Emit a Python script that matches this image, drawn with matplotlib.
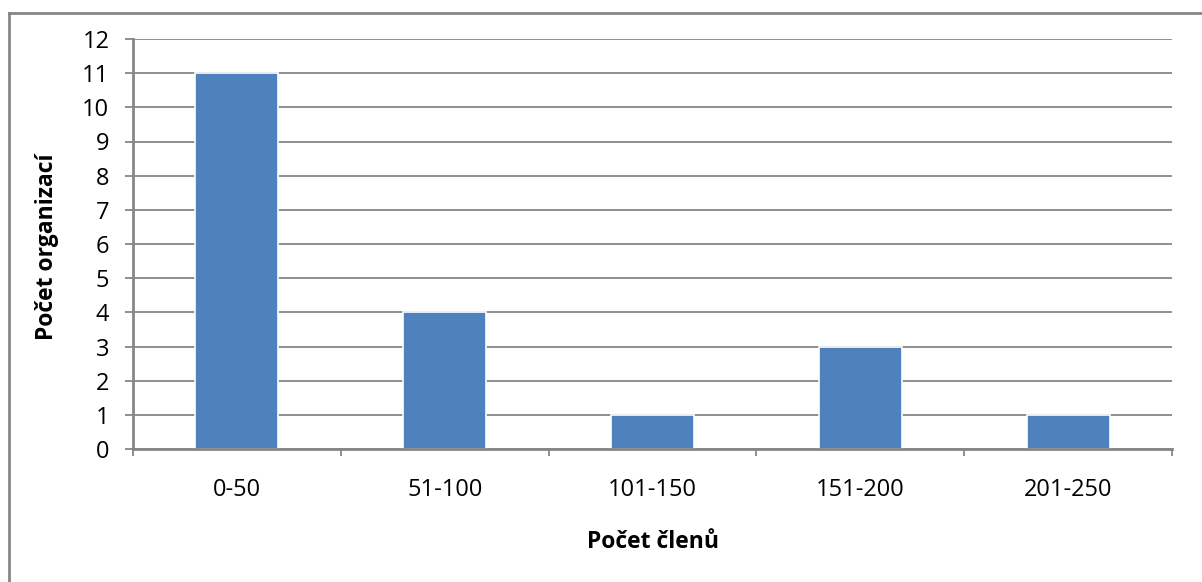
import matplotlib.pyplot as plt
from matplotlib.lines import Line2D

categories = ["0-50", "51-100", "101-150", "151-200", "201-250"]
counts = [11, 4, 1, 3, 1]
y_ticks = list(range(0, 13))

plt.rcParams['font.family'] = ['Open Sans', 'DejaVu Sans']

W, H = 1202, 582
fig = plt.figure(figsize=(W / 100, H / 100), dpi=100)
# plot area in pixels: left 133, right 1172, top 39, bottom 449
ax = fig.add_axes([133 / W, 1 - 449 / H, (1172 - 133) / W, (449 - 39) / H])

grid_col = "#868686"
x = list(range(len(categories)))
ax.bar(x, counts, width=0.4, color="#4F81BD", edgecolor="white", linewidth=1.2, zorder=3)

ax.set_xlim(-0.5, len(categories) - 0.5)
ax.set_ylim(0, 12)
ax.set_yticks(y_ticks)
ax.yaxis.grid(True, color=grid_col, linewidth=1.3, zorder=0)

# x ticks at category boundaries, labels centred
ax.set_xticks([i - 0.5 for i in range(len(categories) + 1)])
ax.set_xticklabels([])
ax.set_xticks(x, minor=True)
ax.set_xticklabels(categories, minor=True, fontsize=17)
ax.tick_params(axis='x', which='minor', length=0, pad=21)
ax.tick_params(axis='x', which='major', length=5, width=1.3, color=grid_col, direction='out')
ax.tick_params(axis='y', length=6, width=1.3, color=grid_col, labelsize=17, pad=11)

for side in ["top", "right"]:
    ax.spines[side].set_visible(False)
for side in ["left", "bottom"]:
    ax.spines[side].set_color(grid_col)
    ax.spines[side].set_linewidth(2)
    ax.spines[side].set_zorder(4)

fig.text(47 / W, 1 - 247 / H, "Počet organizací", rotation=90, ha="center", va="center",
         fontsize=16.5, fontweight="bold")
fig.text(653 / W, 1 - 542 / H, "Počet členů", ha="center", va="center",
         fontsize=16.5, fontweight="bold")

# outer chart frame (only top and left visible in reference)
fig.add_artist(Line2D([9 / W, 9 / W], [0, 1 - 13 / H], transform=fig.transFigure,
                      color=grid_col, linewidth=2))
fig.add_artist(Line2D([9 / W, 1], [1 - 13 / H, 1 - 13 / H], transform=fig.transFigure,
                      color=grid_col, linewidth=2))

fig.savefig("out.png", dpi=100)
